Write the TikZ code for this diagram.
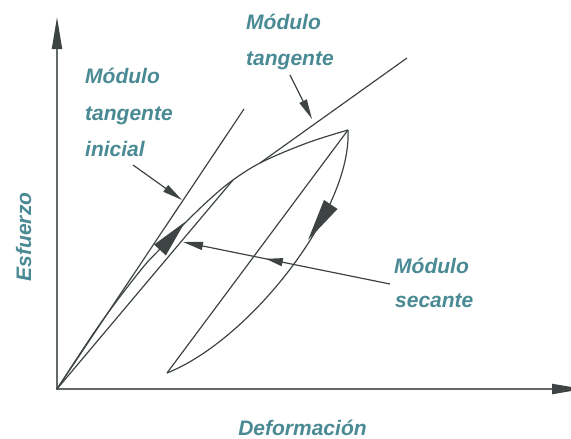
\documentclass[tikz,border=0pt]{standalone}
\usepackage{fontspec}
\setmainfont{Liberation Sans}
\usetikzlibrary{arrows.meta,decorations.markings}
\definecolor{teal1}{HTML}{4A8A94}
\definecolor{ink}{HTML}{3E4444}
\definecolor{axisgray}{HTML}{646969}
\tikzset{
  lbl/.style={text=teal1, font=\bfseries\itshape\fontsize{21}{24}\selectfont, inner sep=0pt, anchor=base west},
  thinline/.style={draw=ink, line width=1.2pt, line join=round},
  leader/.style={thinline, -{Triangle[length=20pt,width=8pt]}},
  axisline/.style={draw=axisgray, line width=2pt, -{Triangle[length=32pt,width=10pt,color=ink]}},
  headfill/.style={fill=ink}
}
\begin{document}
\begin{tikzpicture}[x=1pt,y=-1pt]
\useasboundingbox (0,0) rectangle (571,439);
% key points
\coordinate (O) at (57,389);
\coordinate (P) at (348,130);
\coordinate (Q) at (167,373);
\coordinate (S) at (233,180);
\coordinate (ytip) at (57,17);
\coordinate (xtip) at (584,389);
\coordinate (itEnd) at (244,109);
\coordinate (tA) at (260,163);
\coordinate (tB) at (407,58);
% axes
\draw[axisline] (O) -- (ytip);
\draw[axisline] ([xshift=-1pt]O) -- (xtip);
% initial tangent line
\draw[thinline] (O) -- (itEnd);
% secant line
\draw[thinline] (O) -- (S);
% tangent line
\draw[thinline] (tA) -- (tB);
% reload line
\draw[thinline] (Q) -- (P);
% loading curve
\draw[thinline] plot[smooth, tension=0.6] coordinates {(O) (100,324) (140,271) (160,249) (185,223) (210,199) (S) (262,162) (307,143) (P)};
% unloading curve
\draw[thinline] (P) .. controls (352,210) and (250,340) .. (Q);
% big arrowheads on the curves
\fill[headfill] (185,222) -- (165.9,255.4) -- (154.1,244.6) -- cycle;
\fill[headfill] (308,240) -- (337.5,209) -- (324,200) -- cycle;
% labels
\node[lbl] (ti1) at (85,83) {Módulo};
\node[lbl] (ti2) at (85,120) {tangente};
\node[lbl] (ti3) at (85,156) {inicial};
\node[lbl] (tt1) at (246,29) {Módulo};
\node[lbl] (tt2) at (246,65) {tangente};
\node[lbl] (ts1) at (394,273) {Módulo};
\node[lbl] (ts2) at (395,307) {secante};
\node[lbl, anchor=base, rotate=90] (ey) at (31,237) {Esfuerzo};
\node[lbl, anchor=base] (ex) at (302.5,435) {Deformación};
% leaders
\coordinate (l1s) at (133,165);
\coordinate (l1e) at (182,200);
\coordinate (l2s) at (290,75);
\coordinate (l2e) at (312,119);
\coordinate (l3s) at (390,284);
\coordinate (l3e) at (183,242);
\draw[leader] (l1s) -- (l1e);
\draw[leader] (l2s) -- (l2e);
\draw[leader, postaction={decorate}, decoration={markings, mark=at position 0.6 with {\arrow{Triangle[length=17pt,width=8pt]}}}] (l3s) -- (l3e);
\end{tikzpicture}
\end{document}
